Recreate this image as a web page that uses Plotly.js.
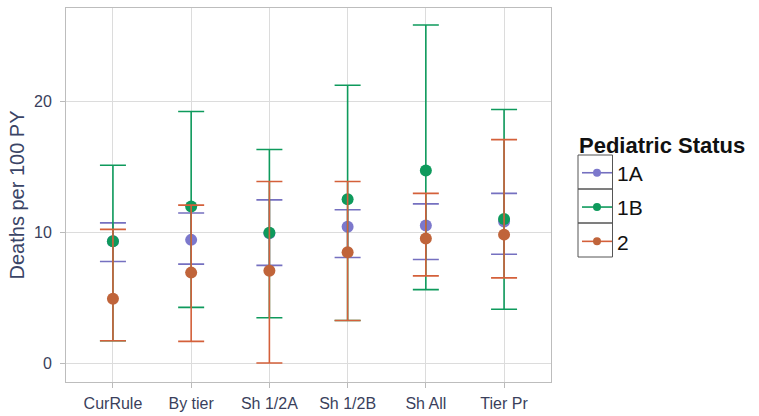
<!DOCTYPE html>
<html><head><meta charset="utf-8">
<script src="https://cdn.plot.ly/plotly-3.0.1.min.js"></script>
<style>html,body{margin:0;padding:0;background:#fff}</style>
</head><body><div id="chart" style="width:759px;height:416px"></div>
<script>
const categories = ["CurRule","By tier","Sh 1/2A","Sh 1/2B","Sh All","Tier Pr"];
const groups = ["1A","1B","2"];
const colors = {"1A":"#7570C0","1B":"#0E9A5C","2":"#D4603A"};
const pointColors = {"1A":"#7C78CC","1B":"#0E9A5C","2":"#C0643A"};
const est = {
  "1A":[9.3, 9.4, 9.9, 10.4, 10.5, 10.8],
  "1B":[9.3, 11.95, 9.95, 12.5, 14.7, 11.0],
  "2":[4.9, 6.9, 7.05, 8.45, 9.5, 9.8]
};
const lower = {
  "1A":[7.75, 7.55, 7.45, 8.05, 7.9, 8.3],
  "1B":[1.7, 4.25, 3.45, 3.25, 5.6, 4.1],
  "2":[1.7, 1.65, 0.0, 3.25, 6.65, 6.5]
};
const upper = {
  "1A":[10.7, 11.45, 12.45, 11.7, 12.15, 12.95],
  "1B":[15.1, 19.2, 16.3, 21.2, 25.8, 19.35],
  "2":[10.2, 12.05, 13.85, 13.85, 12.95, 17.05]
};

const traces = [];
groups.forEach(g => {
  traces.push({
    type:'scatter', mode:'markers', name:g, x:categories, y:est[g],
    showlegend:false,
    marker:{color:pointColors[g], size:12},
    error_y:{type:'data', symmetric:false,
      array:est[g].map((v,i)=>upper[g][i]-v),
      arrayminus:est[g].map((v,i)=>v-lower[g][i]),
      color:colors[g], thickness:1.6, width:13}
  });
});
groups.forEach(g => {
  traces.push({
    type:'scatter', mode:'lines+markers', name:g, x:[null], y:[null],
    legendgroup:'g'+g, showlegend:true, hoverinfo:'skip',
    marker:{color:pointColors[g], size:8},
    line:{color:colors[g], width:1.6}
  });
});

const shapes = [];
const boxTop = 155, boxH = 34;
for (let i=0;i<3;i++){
  shapes.push({type:'rect', xref:'paper', yref:'paper',
    x0:(578-66)/485, x1:(612.5-66)/485,
    y0:(382-boxTop-boxH*(i+1))/374, y1:(382-boxTop-boxH*i)/374,
    line:{color:'#555', width:1}, fillcolor:'rgba(0,0,0,0)'});
}

const layout = {
  width:759, height:416,
  margin:{l:66, r:208, t:8, b:34},
  paper_bgcolor:'#fff', plot_bgcolor:'#fff',
  font:{family:'Liberation Sans, Arial, sans-serif'},
  xaxis:{range:[-0.6,5.6], showgrid:true, gridcolor:'#dcdcdc', gridwidth:1,
    ticks:'outside', ticklen:5, tickcolor:'#bbb', ticklabelstandoff:2,
    tickfont:{size:16, color:'#3a3f5c'}, showline:true, linecolor:'#bdbdbd', mirror:true,
    zeroline:false, fixedrange:true},
  yaxis:{range:[-1.45,27.1], tickvals:[0,10,20], showgrid:true, gridcolor:'#dcdcdc',
    ticks:'outside', ticklen:5, tickcolor:'#bbb', ticklabelstandoff:5,
    tickfont:{size:16, color:'#3a3f5c'}, showline:true, linecolor:'#bdbdbd', mirror:true,
    zeroline:false,
    title:{text:'Deaths per 100 PY', font:{size:20, color:'#3a4466'}, standoff:4}},
  legend:{x:(577-66)/485, y:(382-124)/374, xanchor:'left', yanchor:'top',
    bgcolor:'rgba(0,0,0,0)',
    title:{text:'<b>Pediatric Status</b>', font:{size:22, color:'#111'}},
    font:{size:21, color:'#111'}, tracegroupgap:4, itemwidth:30},
  shapes:shapes,
  showlegend:true
};
Plotly.newPlot('chart', traces, layout, {displayModeBar:false, staticPlot:true});
</script></body></html>
